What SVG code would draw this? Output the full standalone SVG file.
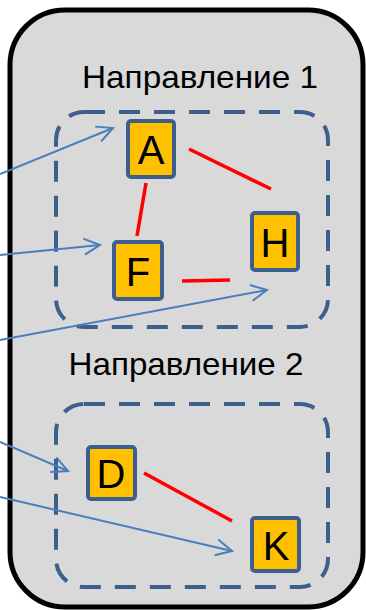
<svg xmlns="http://www.w3.org/2000/svg" width="366" height="610" viewBox="0 0 366 610">
<style>
.grp{fill:none;stroke:#3c5f8c;stroke-width:4;stroke-dasharray:21 14}
.box{fill:#ffc000;stroke:#3c5f8c;stroke-width:4}
.lbl{font-family:"Liberation Sans",Arial,sans-serif;font-size:40px;fill:#000;text-anchor:middle}
.ttl{font-family:"Liberation Sans",Arial,sans-serif;font-size:32px;fill:#000;text-anchor:middle}
.edge{stroke:#ff0000;stroke-width:3.5;fill:none}
.arr{stroke:#4a7ebb;stroke-width:2;fill:none;marker-end:url(#ah)}
</style>
<defs>
<marker id="ah" markerUnits="userSpaceOnUse" markerWidth="20" markerHeight="20" refX="17" refY="9" orient="auto">
<path d="M1,1 L17,9 L1,17" fill="none" stroke="#4a7ebb" stroke-width="2"/>
</marker>
</defs>
<g id="frame">
<rect x="10" y="10" width="353" height="597" rx="55" fill="#d9d9d9" stroke="#000" stroke-width="5"/>
</g>
<g id="dir1">
<text class="ttl" x="200" y="88" textLength="236" lengthAdjust="spacingAndGlyphs">Направление 1</text>
<rect class="grp" x="56" y="112" width="272" height="215" rx="28"/>
</g>
<g id="dir2">
<text class="ttl" x="186" y="375" textLength="235" lengthAdjust="spacingAndGlyphs">Направление 2</text>
<rect class="grp" x="56" y="404" width="272" height="183" rx="28"/>
</g>
<g id="connectors">
<line class="edge" x1="189" y1="149" x2="271" y2="189"/>
<line class="edge" x1="146" y1="183" x2="137" y2="236"/>
<line class="edge" x1="182" y1="281" x2="230" y2="280"/>
<line class="edge" x1="144" y1="473" x2="232" y2="521"/>
<line class="arr" x1="0" y1="174" x2="113" y2="128"/>
<line class="arr" x1="0" y1="255" x2="100" y2="245"/>
<line class="arr" x1="0" y1="340" x2="267" y2="290"/>
<line class="arr" x1="0" y1="442" x2="68" y2="471"/>
<line class="arr" x1="0" y1="497" x2="232" y2="551"/>
</g>
<g id="A"><rect class="box" x="128" y="121" width="46" height="56" rx="3"/><text class="lbl" x="151" y="164">A</text></g>
<g id="F"><rect class="box" x="114" y="242" width="48" height="57" rx="3"/><text class="lbl" x="138" y="286">F</text></g>
<g id="H"><rect class="box" x="252" y="213" width="46" height="57" rx="3"/><text class="lbl" x="275" y="257">H</text></g>
<g id="D"><rect class="box" x="88" y="447" width="47" height="52" rx="3"/><text class="lbl" x="111" y="488">D</text></g>
<g id="K"><rect class="box" x="252" y="518" width="47" height="53" rx="3"/><text class="lbl" x="276" y="560">K</text></g>
</svg>
